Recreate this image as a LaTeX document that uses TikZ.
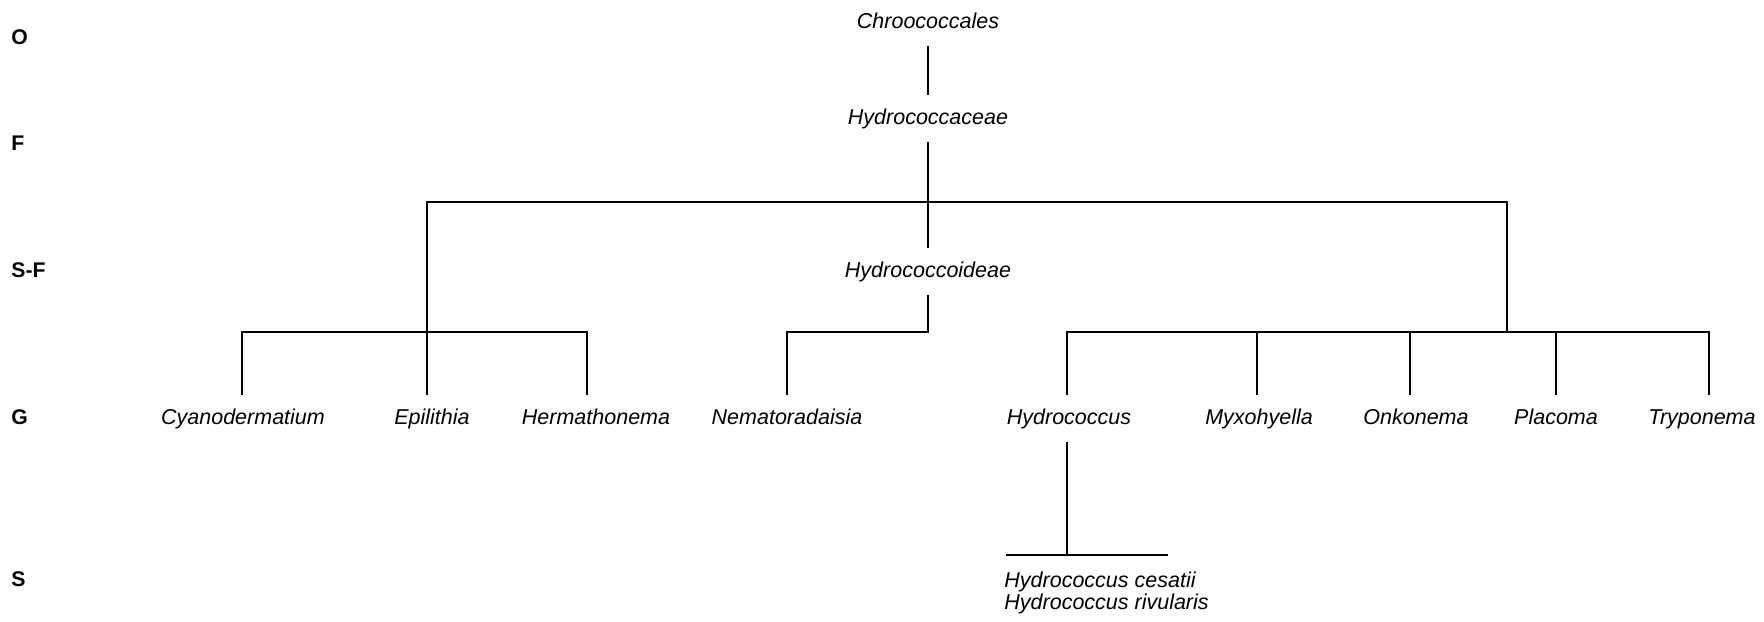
\documentclass[tikz,border=0pt]{standalone}
\usepackage{fontspec}
\setmainfont{Liberation Sans}
\begin{document}
\begin{tikzpicture}[x=0.5pt,y=-0.5pt,
  taxon/.style={inner sep=0pt, font=\fontsize{10.75}{12}\selectfont\itshape, text height=15pt, text depth=9pt, anchor=base},
  species/.style={inner sep=0pt, font=\fontsize{10.75}{12}\selectfont\itshape, anchor=base west},
  rank/.style={inner sep=0pt, font=\fontsize{10.6}{12}\selectfont\bfseries, anchor=base west},
  link/.style={line width=0.9pt, line cap=rect}]
\useasboundingbox (0,0) rectangle (1764,621);

% rank labels
\node[rank] (rO)  at (11,44)  {O};
\node[rank] (rF)  at (11,150) {F};
\node[rank] (rSF) at (11,277) {S-F};
\node[rank] (rG)  at (11,424) {G};
\node[rank] (rS)  at (11,586) {S};

% taxa
\node[taxon] (chro)  at (928,28)  {Chroococcales};
\node[taxon] (hcae)  at (928,124) {Hydrococcaceae};
\node[taxon] (hoid)  at (928,277) {Hydrococcoideae};
\node[taxon] (cyano) at (243,424) {Cyanodermatium};
\node[taxon] (epil)  at (432,424) {Epilithia};
\node[taxon] (herm)  at (596,424) {Hermathonema};
\node[taxon] (nema)  at (787,424) {Nematoradaisia};
\node[taxon] (hcoc)  at (1069,424) {Hydrococcus};
\node[taxon] (myxo)  at (1259,424) {Myxohyella};
\node[taxon] (onko)  at (1416,424) {Onkonema};
\node[taxon] (plac)  at (1556,424) {Placoma};
\node[taxon] (tryp)  at (1702,424) {Tryponema};
\node[species] (sp1) at (1004,587) {Hydrococcus cesatii};
\node[species] (sp2) at (1004,609) {Hydrococcus rivularis};

% x positions of the vertical connectors
\coordinate (cyano-x) at (242,0);
\coordinate (epil-x)  at (427,0);
\coordinate (herm-x)  at (587,0);
\coordinate (nema-x)  at (787,0);
\coordinate (hcoc-x)  at (1067,0);
\coordinate (myxo-x)  at (1257,0);
\coordinate (onko-x)  at (1410,0);
\coordinate (plac-x)  at (1556,0);
\coordinate (tryp-x)  at (1709,0);

% junction coordinates
\coordinate (bar) at (0,332);
\coordinate (tl) at (427,202);
\coordinate (tr) at (1507,202);
\coordinate (rj) at (1507,332);
\coordinate (sl) at (1007,555);
\coordinate (sr) at (1167,555);

% connectors
\draw[link] (chro.south) -- (hcae.north);
\draw[link] (hcae.south) -- (hoid.north);
\draw[link] (epil-x |- epil.north) -- (tl) -- (tr) -- (rj);
\draw[link] (cyano-x |- cyano.north) -- (cyano-x |- bar) -- (herm-x |- bar) -- (herm-x |- herm.north);
\draw[link] (nema-x |- nema.north) -- (nema-x |- bar) -- (hoid.south |- bar) -- (hoid.south);
\draw[link] (hcoc-x |- hcoc.north) -- (hcoc-x |- bar) -- (tryp-x |- bar) -- (tryp-x |- tryp.north);
\draw[link] (myxo-x |- myxo.north) -- (myxo-x |- bar);
\draw[link] (onko-x |- onko.north) -- (onko-x |- bar);
\draw[link] (plac-x |- plac.north) -- (plac-x |- bar);
\draw[link] (hcoc-x |- hcoc.south) -- (hcoc-x |- sl);
\draw[link] (sl) -- (sr);
\end{tikzpicture}
\end{document}
